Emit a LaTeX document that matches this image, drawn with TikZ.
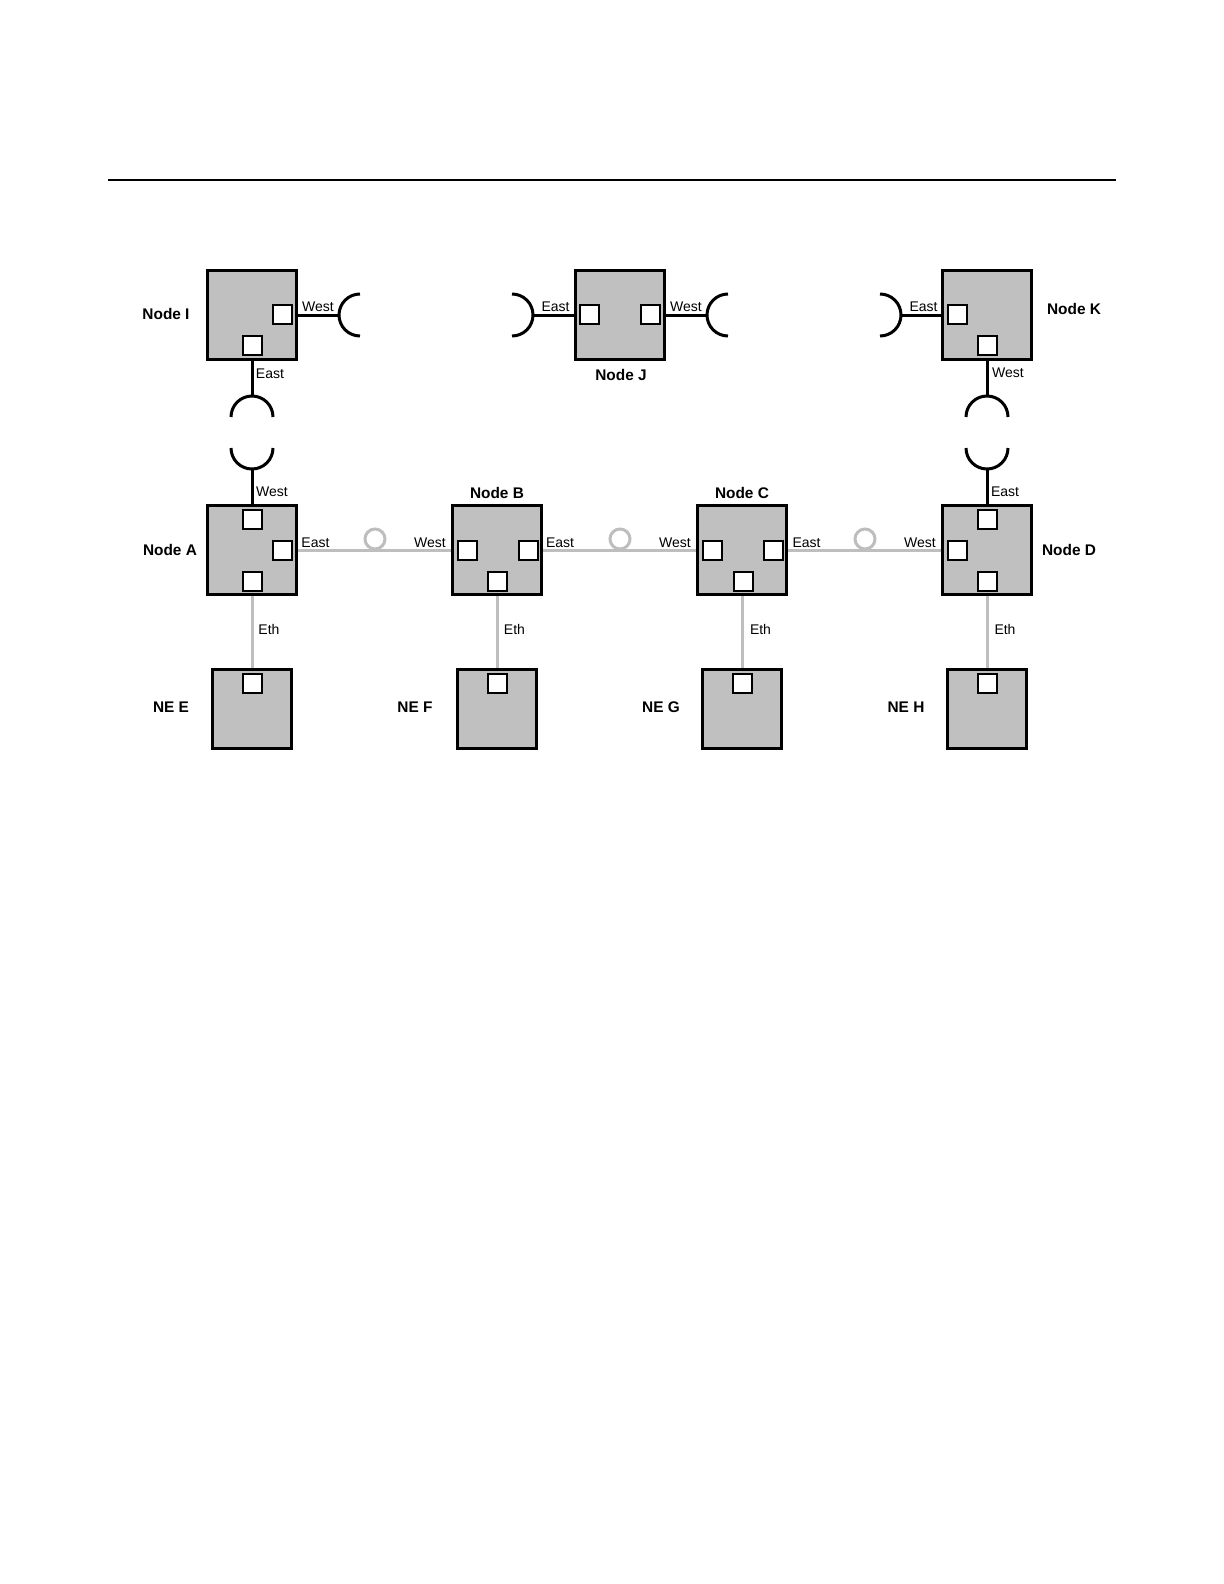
\documentclass[tikz,border=0pt]{standalone}
\usepackage{fontspec}
\setmainfont{Liberation Sans}
\definecolor{boxgray}{RGB}{192,192,192}
\definecolor{linegray}{RGB}{190,190,190}
\begin{document}
\begin{tikzpicture}[x=0.5pt,y=-0.5pt,
  bigbox/.style={draw,line width=1.5pt,fill=boxgray,minimum size=44.5pt,inner sep=0pt},
  nebox/.style={draw,line width=1.5pt,fill=boxgray,minimum size=39.5pt,inner sep=0pt},
  port/.style={draw,line width=1pt,fill=white,minimum size=9.5pt,inner sep=0pt},
  blk/.style={line width=1.5pt},
  gry/.style={line width=1.5pt,draw=linegray},
  ring/.style={circle,draw=linegray,line width=1.5pt,minimum size=10pt,inner sep=0pt},
  big/.style={font=\bfseries\fontsize{7.7}{9}\selectfont,anchor=base,inner sep=0pt},
  small/.style={font=\fontsize{7}{8}\selectfont,anchor=base,inner sep=0pt}]
\fill[white] (0,0) rectangle (1224,1584);
\useasboundingbox (0,0) rectangle (1224,1584);
% rule
\coordinate (r1) at (108,180);
\coordinate (r2) at (1116,180);
\draw[line width=1.1pt] (r1) -- (r2);
% big boxes
\node[bigbox] (I) at (252,315) {};
\node[bigbox] (J) at (620,315) {};
\node[bigbox] (K) at (987,315) {};
\node[bigbox] (A) at (252,550) {};
\node[bigbox] (B) at (497,550) {};
\node[bigbox] (C) at (742,550) {};
\node[bigbox] (D) at (987,550) {};
% NE boxes
\node[nebox] (E) at (252,709) {};
\node[nebox] (F) at (497,709) {};
\node[nebox] (G) at (742,709) {};
\node[nebox] (H) at (987,709) {};
% ports
\node[port] (Ip1) at (282.5,314.5) {};
\node[port] (Ip2) at (252.5,345.5) {};
\node[port] (Jp1) at (589.5,314.5) {};
\node[port] (Jp2) at (650.5,314.5) {};
\node[port] (Kp1) at (957.5,314.5) {};
\node[port] (Kp2) at (987.5,345.5) {};
\node[port] (Ap1) at (252.5,519.5) {};
\node[port] (Ap2) at (282.5,550.5) {};
\node[port] (Ap3) at (252.5,581) {};
\node[port] (Bp1) at (467,550.5) {};
\node[port] (Bp2) at (528,550.5) {};
\node[port] (Bp3) at (497.5,581) {};
\node[port] (Cp1) at (712,550.5) {};
\node[port] (Cp2) at (773,550.5) {};
\node[port] (Cp3) at (743,581) {};
\node[port] (Dp1) at (987.5,519.5) {};
\node[port] (Dp2) at (957,550.5) {};
\node[port] (Dp3) at (987.5,581) {};
\node[port] (Ep) at (252.5,683.5) {};
\node[port] (Fp) at (497.5,683.5) {};
\node[port] (Gp) at (742.5,683.5) {};
\node[port] (Hp) at (987.5,683.5) {};
% black connectors with open ends
\coordinate (Iw) at (339,315);
\coordinate (Jeo) at (533,315);
\coordinate (Jwo) at (707,315);
\coordinate (Keo) at (901,315);
\coordinate (Ie) at (252,396);
\coordinate (Aw) at (252,469);
\coordinate (Kw) at (987,396);
\coordinate (De) at (987,469);
\draw[blk] (I.east |- Iw) -- (Iw);
\draw[blk] (Iw) arc[start angle=180,end angle=90,radius=10.5pt];
\draw[blk] (Iw) arc[start angle=180,end angle=270,radius=10.5pt];
\draw[blk] (Jeo) -- (J.west |- Jeo);
\draw[blk] (Jeo) arc[start angle=0,end angle=90,radius=10.5pt];
\draw[blk] (Jeo) arc[start angle=0,end angle=-90,radius=10.5pt];
\draw[blk] (J.east |- Jwo) -- (Jwo);
\draw[blk] (Jwo) arc[start angle=180,end angle=90,radius=10.5pt];
\draw[blk] (Jwo) arc[start angle=180,end angle=270,radius=10.5pt];
\draw[blk] (Keo) -- (K.west |- Keo);
\draw[blk] (Keo) arc[start angle=0,end angle=90,radius=10.5pt];
\draw[blk] (Keo) arc[start angle=0,end angle=-90,radius=10.5pt];
\draw[blk] (I.south) -- (Ie);
\draw[blk] (Ie) arc[start angle=90,end angle=0,radius=10.5pt];
\draw[blk] (Ie) arc[start angle=90,end angle=180,radius=10.5pt];
\draw[blk] (A.north) -- (Aw);
\draw[blk] (Aw) arc[start angle=270,end angle=180,radius=10.5pt];
\draw[blk] (Aw) arc[start angle=270,end angle=360,radius=10.5pt];
\draw[blk] (K.south) -- (Kw);
\draw[blk] (Kw) arc[start angle=90,end angle=0,radius=10.5pt];
\draw[blk] (Kw) arc[start angle=90,end angle=180,radius=10.5pt];
\draw[blk] (D.north) -- (De);
\draw[blk] (De) arc[start angle=270,end angle=180,radius=10.5pt];
\draw[blk] (De) arc[start angle=270,end angle=360,radius=10.5pt];
% gray connectors
\draw[gry] (A.east) -- (B.west);
\draw[gry] (B.east) -- (C.west);
\draw[gry] (C.east) -- (D.west);
\node[ring] (c1) at (375,539) {};
\node[ring] (c2) at (620,539) {};
\node[ring] (c3) at (865,539) {};
\draw[gry] (A.south) -- (E.north);
\draw[gry] (B.south) -- (F.north);
\draw[gry] (C.south) -- (G.north);
\draw[gry] (D.south) -- (H.north);
% node labels
\node[big] (lI) at (166,319) {Node I};
\node[big] (lJ) at (621,380.5) {Node J};
\node[big] (lK) at (1074,314) {Node K};
\node[big] (lA) at (170,555.5) {Node A};
\node[big] (lB) at (497,498) {Node B};
\node[big] (lC) at (742,498) {Node C};
\node[big] (lD) at (1069,555.5) {Node D};
\node[big] (lE) at (171,712.5) {NE E};
\node[big] (lF) at (415,712.5) {NE F};
\node[big] (lG) at (661,712.5) {NE G};
\node[big] (lH) at (906,712.5) {NE H};
% port labels
\node[small] (tIw) at (318,311) {West};
\node[small] (tIe) at (270,378) {East};
\node[small] (tJe) at (555.5,311.5) {East};
\node[small] (tJw) at (686,311.5) {West};
\node[small] (tKe) at (923.5,311) {East};
\node[small] (tKw) at (1008,377.5) {West};
\node[small] (tAw) at (272,496.5) {West};
\node[small] (tAe) at (315.5,547.5) {East};
\node[small] (tBw) at (430,547.5) {West};
\node[small] (tBe) at (560,547.5) {East};
\node[small] (tCw) at (675,547.5) {West};
\node[small] (tCe) at (806.5,547.5) {East};
\node[small] (tDw) at (920,547.5) {West};
\node[small] (tDe) at (1005,496.5) {East};
\node[small] (tE) at (269,634) {Eth};
\node[small] (tF) at (514.5,634) {Eth};
\node[small] (tG) at (760.5,634) {Eth};
\node[small] (tH) at (1005,634) {Eth};
\end{tikzpicture}
\end{document}
